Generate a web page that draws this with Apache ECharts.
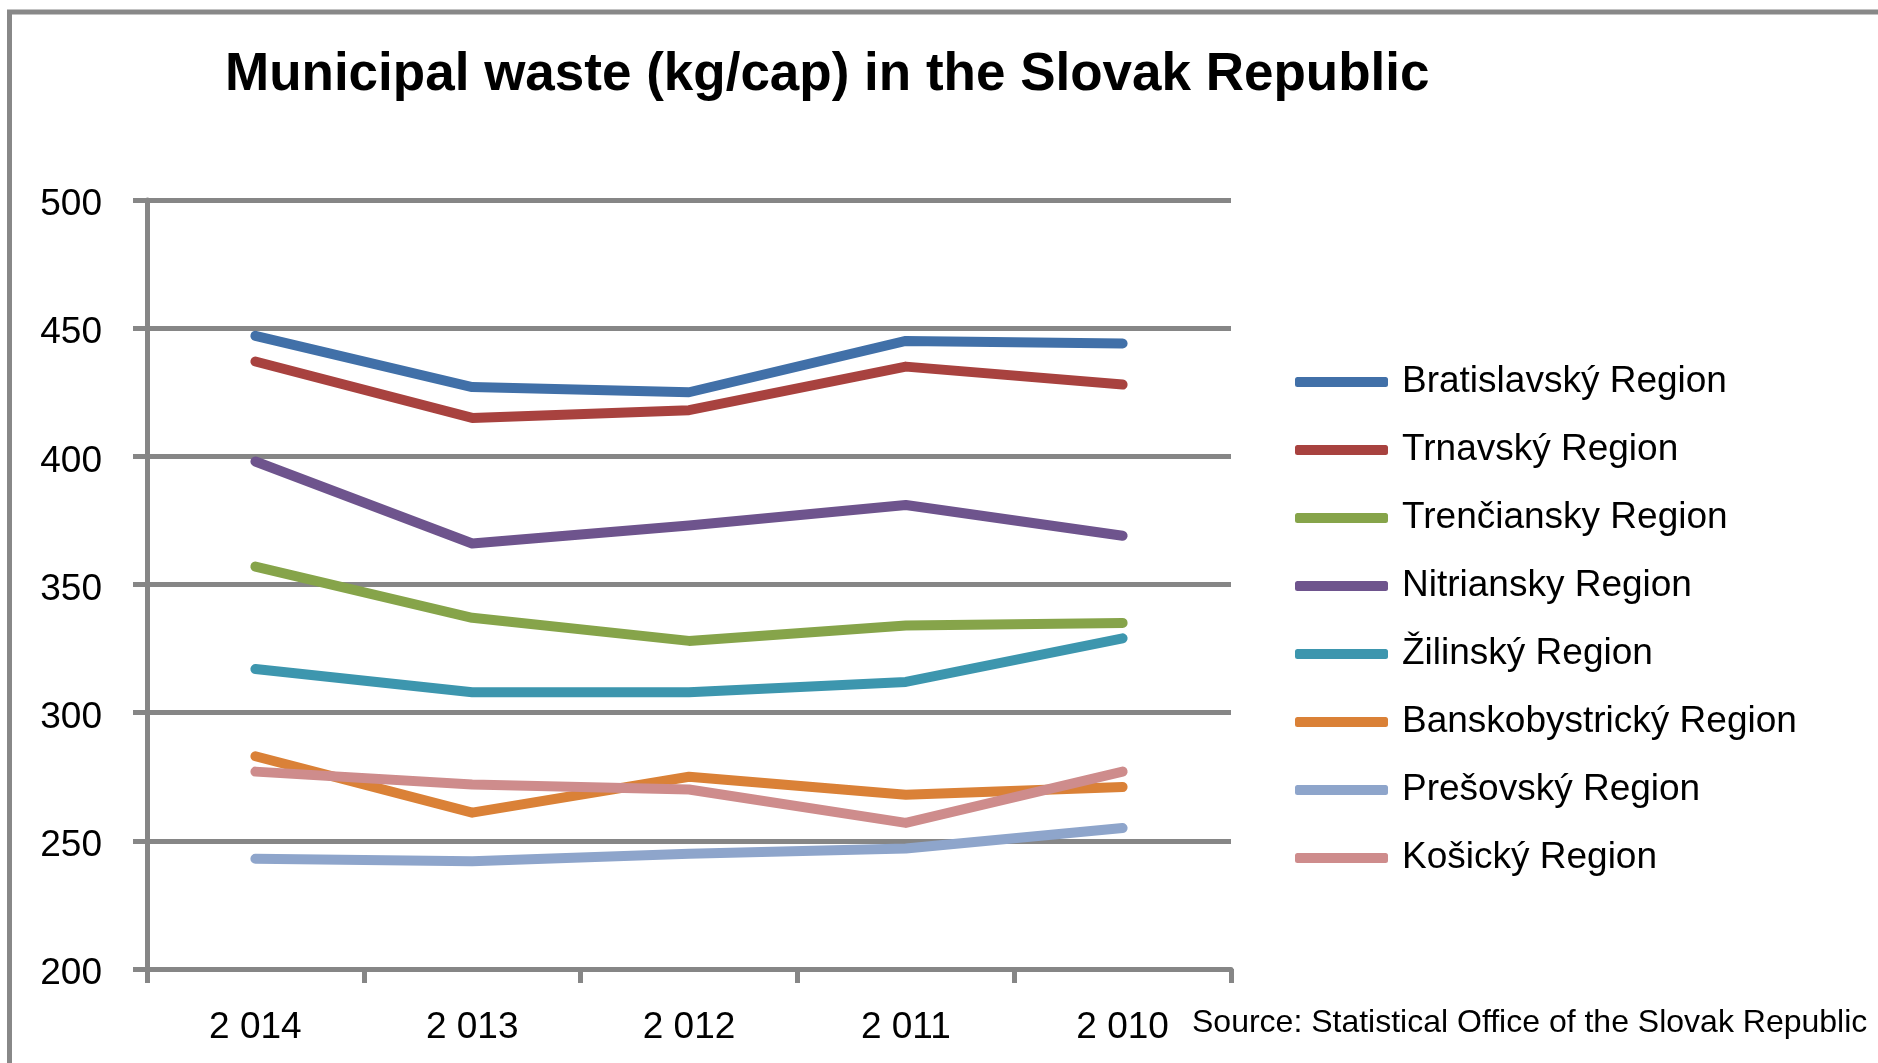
<!DOCTYPE html>
<html>
<head>
<meta charset="utf-8">
<script src="https://cdn.jsdelivr.net/npm/echarts@6/dist/echarts.min.js"></script>
<style>
html,body{margin:0;padding:0;background:#fff;}
#c{width:1878px;height:1063px;}
</style>
</head>
<body>
<div id="c"></div>
<script>
const categories = ['2 014', '2 013', '2 012', '2 011', '2 010'];
const yTicks = [200, 250, 300, 350, 400, 450, 500];
const seriesNames = ['Bratislavský Region', 'Trnavský Region', 'Trenčiansky Region', 'Nitriansky Region', 'Žilinský Region', 'Banskobystrický Region', 'Prešovský Region', 'Košický Region'];
const bratislavsky = [447, 427, 425, 445, 444];
const trnavsky = [437, 415, 418, 435, 428];
const trenciansky = [357, 337, 328, 334, 335];
const nitriansky = [398, 366, 373, 381, 369];
const zilinsky = [317, 308, 308, 312, 329];
const banskobystricky = [283, 261, 275, 268, 271];
const presovsky = [243, 242, 245, 247, 255];
const kosicky = [277, 272, 270, 257, 277];
const colors = ['#4170A8', '#A8423F', '#86A44A', '#6E548D', '#3D96AE', '#DA8137', '#8EA5CB', '#CE8C8C'];
const values = [bratislavsky, trnavsky, trenciansky, nitriansky, zilinsky, banskobystricky, presovsky, kosicky];

const font = 'Liberation Sans, Arial, sans-serif';
const chart = echarts.init(document.getElementById('c'));
chart.setOption({
  animation: false,
  color: colors,
  title: {
    text: 'Municipal waste (kg/cap) in the Slovak Republic',
    left: 220, top: 44,
    textStyle: {fontFamily: font, fontWeight: 'bold', fontSize: 53, color: '#000'}
  },
  legend: {
    orient: 'vertical',
    left: 1290, top: 357,
    itemWidth: 93, itemHeight: 10, itemGap: 28,
    icon: 'roundRect',
    textStyle: {fontFamily: font, fontSize: 37, color: '#000', lineHeight: 40, padding: [0,0,0,9]},
    data: seriesNames
  },
  grid: {left: 147, right: 647, top: 200, bottom: 94, containLabel: false},
  xAxis: {
    type: 'category',
    data: categories,
    boundaryGap: true,
    axisLine: {lineStyle: {color: '#868686', width: 5}},
    axisTick: {show: true, length: 14, lineStyle: {color: '#868686', width: 5}},
    axisLabel: {fontFamily: font, fontSize: 37, color: '#000', margin: 40}
  },
  yAxis: {
    type: 'value',
    min: 200, max: 500, interval: 50,
    axisLine: {show: true, lineStyle: {color: '#868686', width: 5}},
    axisTick: {show: true, length: 14, lineStyle: {color: '#868686', width: 5}},
    axisLabel: {
      fontFamily: font, fontSize: 37, color: '#000', margin: 45,
      formatter: v => '{a|' + v + '}',
      rich: {a: {fontFamily: font, fontSize: 37, color: '#000', padding: [10, 0, 0, 0]}}
    },
    splitLine: {lineStyle: {color: '#868686', width: 5}}
  },
  graphic: [
    {type: 'rect', shape: {x: 9.5, y: 12, width: 2000, height: 2000}, style: {fill: 'none', stroke: '#888', lineWidth: 5}, z: -1},
    {type: 'text', left: 1192, top: 1007, style: {text: 'Source: Statistical Office of the Slovak Republic', font: '32px Liberation Sans, Arial, sans-serif', fill: '#000'}}
  ],
  series: seriesNames.map((n, i) => ({
    name: n,
    type: 'line',
    data: values[i],
    symbol: 'none',
    lineStyle: {width: 10, color: colors[i], cap: 'round', join: 'round'},
    itemStyle: {color: colors[i]}
  }))
});
</script>
</body>
</html>
